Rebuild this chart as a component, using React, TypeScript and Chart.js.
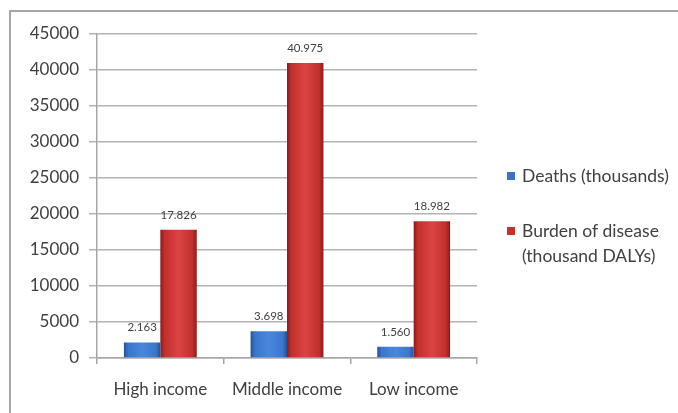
import React, { useEffect, useRef } from "react";
import { Chart, registerables } from "chart.js";

Chart.register(...registerables);

const categories = ["High income", "Middle income", "Low income"];
const deaths = [2163, 3698, 1560];
const burden = [17826, 40975, 18982];
const deathsLabel = "Deaths (thousands)";
const burdenLabel = ["Burden of disease", "(thousand DALYs)"];
const yMin = 0;
const yMax = 45000;
const yStep = 5000;

const FONT = "Lato, 'Open Sans', sans-serif";

function fmt(v: number): string {
  const s = String(Math.round(v));
  return s.replace(/\B(?=(\d{3})+(?!\d))/g, ".");
}

function makeGrad(ctx: any, stops: string[], solid: string) {
  const el = ctx.element;
  const c = ctx.chart.ctx;
  if (!el || typeof el.x !== "number" || typeof el.width !== "number" || !isFinite(el.x)) return solid;
  const x0 = el.x - el.width / 2;
  const x1 = el.x + el.width / 2;
  const g = c.createLinearGradient(x0, 0, x1, 0);
  g.addColorStop(0, stops[0]);
  g.addColorStop(0.12, stops[1]);
  g.addColorStop(0.5, stops[2]);
  g.addColorStop(0.88, stops[1]);
  g.addColorStop(1, stops[0]);
  return g;
}

const framePlugin = {
  id: "frame",
  beforeDraw(chart: any) {
    const c = chart.ctx;
    c.save();
    c.fillStyle = "#ffffff";
    c.fillRect(0, 0, chart.width, chart.height);
    c.strokeStyle = "#a6a6a6";
    c.lineWidth = 2;
    c.beginPath();
    c.moveTo(10, chart.height);
    c.lineTo(10, 11);
    c.lineTo(chart.width, 11);
    c.stroke();
    c.restore();
  },
};

const labelPlugin = {
  id: "valueLabels",
  afterDatasetsDraw(chart: any) {
    const c = chart.ctx;
    c.save();
    c.font = `11.5px ${FONT}`;
    c.fillStyle = "#404040";
    c.textAlign = "center";
    c.textBaseline = "bottom";
    chart.data.datasets.forEach((ds: any, di: number) => {
      const meta = chart.getDatasetMeta(di);
      meta.data.forEach((el: any, i: number) => {
        c.fillText(fmt(ds.data[i]), el.x, el.y - 9);
      });
    });
    c.restore();
  },
};

const legendPlugin = {
  id: "customLegend",
  afterDraw(chart: any) {
    const c = chart.ctx;
    c.save();
    c.font = `17.5px ${FONT}`;
    c.textBaseline = "middle";
    c.textAlign = "left";
    const items = [
      { lines: [deathsLabel], color: "#3a74c8", y: 176 },
      { lines: burdenLabel, color: "#c8302c", y: 231 },
    ];
    items.forEach((it) => {
      c.fillStyle = it.color;
      c.fillRect(507, it.y - 4, 8, 8);
      c.fillStyle = "#404040";
      it.lines.forEach((ln, k) => c.fillText(ln, 522, it.y + k * 25));
    });
    c.restore();
  },
};

export default function App() {
  const ref = useRef<HTMLCanvasElement | null>(null);
  useEffect(() => {
    if (!ref.current) return;
    const chart = new Chart(ref.current, {
      type: "bar",
      data: {
        labels: categories,
        datasets: [
          {
            label: deathsLabel,
            data: deaths,
            backgroundColor: (ctx: any) => makeGrad(ctx, ["#24509a", "#3a76cc", "#4a88dc"], "#3a76cc"),
            borderWidth: 0,
          },
          {
            label: burdenLabel.join(" "),
            data: burden,
            backgroundColor: (ctx: any) => makeGrad(ctx, ["#8e1a1a", "#c0302c", "#dc4444"], "#c8302c"),
            borderWidth: 0,
          },
        ],
      },
      options: {
        animation: false,
        responsive: false,
        maintainAspectRatio: false,
        layout: { padding: { left: 10, right: 201, top: 34, bottom: 0 } },
        plugins: {
          legend: { display: false },
          tooltip: { enabled: false },
        },
        datasets: {
          bar: { barPercentage: 1, categoryPercentage: 0.575 },
        },
        scales: {
          x: {
            offset: true,
            grid: {
              display: true,
              drawOnChartArea: false,
              drawTicks: true,
              tickLength: 6,
              color: "#a6a6a6",
              lineWidth: 1.5,
            },
            border: { display: true, color: "#a6a6a6", width: 1.5 },
            ticks: {
              color: "#404040",
              font: { family: FONT, size: 17 },
              padding: 15,
              maxRotation: 0,
            },
            afterFit(scale: any) {
              scale.height = 55;
            },
          },
          y: {
            min: yMin,
            max: yMax,
            grid: {
              color: "#b3b3b3",
              lineWidth: 1.5,
              tickLength: 8,
            },
            border: { display: true, color: "#a6a6a6", width: 1.5 },
            ticks: {
              stepSize: yStep,
              color: "#404040",
              font: { family: FONT, size: 17 },
              padding: 10,
              callback: (v: any) => String(v),
            },
            afterFit(scale: any) {
              scale.width = 87;
            },
          },
        },
      },
      plugins: [framePlugin, labelPlugin, legendPlugin],
    } as any);
    chart.update();
    return () => chart.destroy();
  }, []);
  return (
    <div style={{ position: "fixed", left: 0, top: 0, width: 678, height: 413, background: "#fff" }}>
      <canvas ref={ref} width={678} height={413} style={{ display: "block", width: 678, height: 413 }} />
    </div>
  );
}
